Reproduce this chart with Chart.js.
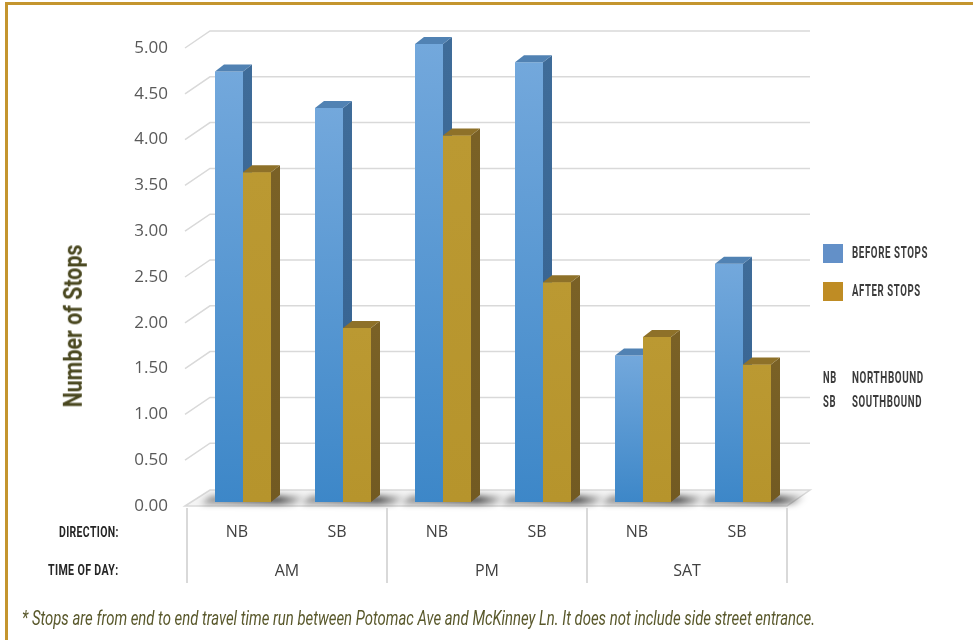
<!DOCTYPE html>
<html lang="en">
<head>
<meta charset="UTF-8">
<title>Number of Stops</title>
<script src="https://cdn.jsdelivr.net/npm/chart.js"></script>
<style>
  body { margin: 0; background: #fff; }
  #frame {
    position: absolute; left: 5px; top: 2px; width: 968px; height: 638px;
    border-left: 3px solid #c4952e; border-top: 3px solid #c4952e;
    box-sizing: border-box;
  }
  canvas { position: absolute; left: 0; top: 0; }
  .txt {
    position: absolute; white-space: nowrap; font-family: Roboto, sans-serif;
    line-height: 20px; transform-origin: left center;
  }
  .row { font-size: 15px; font-weight: 700; color: #262626; letter-spacing: 0.5px; }
  .leg { font-size: 16px; font-weight: 700; color: #3c3c3c; letter-spacing: 1px; }
  .note { font-size: 21px; font-style: italic; color: #59582b; line-height: 26px; }
  .title { font-size: 26px; font-weight: 700; color: #4a4820; line-height: 30px; transform-origin: center center; }
  .box { position: absolute; width: 20px; height: 19px; }
</style>
</head>
<body>
<div id="frame"></div>
<canvas id="chart" width="973" height="640"></canvas>

<div class="txt title" id="ytitle" data-w="163" data-cx="73" data-cy="326">Number of Stops</div>

<div class="txt row" data-x="59" data-y="532" data-w="60">DIRECTION:</div>
<div class="txt row" data-x="48" data-y="570" data-w="71">TIME OF DAY:</div>

<div class="box" style="left:823px; top:244px; background:#6390c8;"></div>
<div class="txt leg" data-x="852" data-y="253" data-w="76">BEFORE STOPS</div>
<div class="box" style="left:823px; top:282px; background:#bf8c24;"></div>
<div class="txt leg" data-x="852" data-y="291" data-w="69">AFTER STOPS</div>

<div class="txt leg" data-x="823" data-y="378" data-w="14">NB</div>
<div class="txt leg" data-x="852" data-y="378" data-w="72">NORTHBOUND</div>
<div class="txt leg" data-x="823" data-y="402" data-w="13">SB</div>
<div class="txt leg" data-x="852" data-y="402" data-w="70">SOUTHBOUND</div>

<div class="txt note" data-x="22" data-y="618" data-w="793">* Stops are from end to end travel time run between Potomac Ave and McKinney Ln. It does not include side street entrance.</div>

<script>
// data
const groups = ['AM', 'PM', 'SAT'];
const directions = ['NB', 'SB', 'NB', 'SB', 'NB', 'SB'];
const beforeStops = [4.7, 4.3, 5.0, 4.8, 1.6, 2.6];
const afterStops = [3.6, 1.9, 4.0, 2.4, 1.8, 1.5];
const yMin = 0, yMax = 5, yStep = 0.5;

// looks
const frontTop = ['#73a8dc', '#bb9932'];
const frontBot = ['#3d87c8', '#b6942c'];
const sideTop = ['#3f6c99', '#7a6126'];
const sideBot = ['#33608f', '#725a22'];
const topCol = ['#5182b3', '#8e7129'];
const DX = 9, DY = -7;

// squeeze the condensed texts to the widths in the picture
document.querySelectorAll('.txt').forEach(function (el) {
  var s = el.dataset.w / el.offsetWidth;
  if (el.dataset.cx) {
    el.style.left = (el.dataset.cx - el.offsetWidth / 2) + 'px';
    el.style.top = (el.dataset.cy - el.offsetHeight / 2) + 'px';
    el.style.transform = 'rotate(-90deg) scaleX(' + s + ')';
  } else {
    el.style.left = el.dataset.x + 'px';
    el.style.top = (el.dataset.y - el.offsetHeight / 2) + 'px';
    el.style.transform = 'scaleX(' + s + ')';
  }
});

function poly(ctx, pts, fill, stroke) {
  ctx.beginPath();
  ctx.moveTo(pts[0][0], pts[0][1]);
  for (var i = 1; i < pts.length; i++) ctx.lineTo(pts[i][0], pts[i][1]);
  ctx.closePath();
  if (fill) { ctx.fillStyle = fill; ctx.fill(); }
  if (stroke) { ctx.strokeStyle = stroke; ctx.stroke(); }
}

function faces(ctx, el, k) {
  const l = el.x - el.width / 2, r = el.x + el.width / 2, t = el.y, b = el.base;
  const g = ctx.createLinearGradient(0, t, 0, b);
  g.addColorStop(0, sideTop[k]);
  g.addColorStop(1, sideBot[k]);
  poly(ctx, [[r, t], [r + DX, t + DY], [r + DX, b + DY], [r, b]], g);
  poly(ctx, [[l, t], [l + DX, t + DY], [r + DX, t + DY], [r, t]], topCol[k]);
}

const threeD = {
  id: 'threeD',
  beforeDatasetsDraw(chart) {
    const ctx = chart.ctx, a = chart.chartArea, x = chart.scales.x, y = chart.scales.y;
    const p0 = y.getPixelForValue(0);
    ctx.save();

    // back wall grid lines
    ctx.strokeStyle = '#d9d9d9';
    ctx.lineWidth = 1.5;
    y.ticks.forEach(function (t) {
      if (t.value === 0) return;
      const p = y.getPixelForValue(t.value);
      ctx.beginPath();
      ctx.moveTo(a.left - 8, p + 4);
      ctx.lineTo(a.left + 17, p - 13);
      ctx.lineTo(a.right + 17, p - 13);
      ctx.stroke();
    });

    // floor
    poly(ctx, [[a.left - 8, p0 + 4], [a.left + 17, p0 - 12], [a.right + 17, p0 - 12], [a.right - 6, p0 + 4]], '#f4f4f4', '#d9d9d9');

    // shadows under the bar pairs
    const m0 = chart.getDatasetMeta(0).data, m1 = chart.getDatasetMeta(1).data;
    ctx.filter = 'blur(3px)';
    for (let i = 0; i < m0.length; i++) {
      const l = m0[i].x - m0[i].width / 2, r = m1[i].x + m1[i].width / 2;
      const g = ctx.createLinearGradient(l, 0, r + 34, 0);
      g.addColorStop(0, 'rgba(0,0,0,0.4)');
      g.addColorStop(0.7, 'rgba(0,0,0,0.7)');
      g.addColorStop(1, 'rgba(0,0,0,0.05)');
      poly(ctx, [[l - 14, p0 + 2], [l - 4, p0 - 6], [r + 36, p0 - 6], [r + 24, p0 + 2]], g);
    }
    ctx.filter = 'none';

    // category table below the floor
    const xs = directions.map(function (d, i) { return x.getPixelForValue(i); });
    const step = xs[1] - xs[0];
    const bx = function (i) { return (i < xs.length ? xs[i] : xs[xs.length - 1] + step) - step / 2 - 6; };
    ctx.strokeStyle = '#d9d9d9';
    ctx.lineWidth = 2;
    for (let g = 0; g <= groups.length; g++) {
      ctx.beginPath();
      ctx.moveTo(bx(g * 2), p0 + 6);
      ctx.lineTo(bx(g * 2), p0 + 81);
      ctx.stroke();
    }
    ctx.fillStyle = '#404040';
    ctx.font = '16px "Open Sans"';
    ctx.textAlign = 'center';
    ctx.textBaseline = 'middle';
    directions.forEach(function (d, i) { ctx.fillText(d, xs[i] - 6, p0 + 30); });
    groups.forEach(function (gname, g) { ctx.fillText(gname, (bx(g * 2) + bx(g * 2 + 2)) / 2, p0 + 69); });
    ctx.restore();
  },
  afterDatasetsDraw(chart) {
    // blue depth first, then the gold bars go over it
    const ctx = chart.ctx;
    ctx.save();
    chart.getDatasetMeta(0).data.forEach(function (el) { faces(ctx, el, 0); });
    chart.getDatasetMeta(1).data.forEach(function (el) { el.draw(ctx); faces(ctx, el, 1); });
    ctx.restore();
  }
};

function frontFill(k) {
  return function (c) {
    const y = c.chart.scales.y;
    if (!y || typeof c.raw !== 'number') return frontBot[k];
    const t = y.getPixelForValue(c.raw), b = y.getPixelForValue(0);
    if (!isFinite(t) || !isFinite(b) || t === b) return frontBot[k];
    const g = c.chart.ctx.createLinearGradient(0, t, 0, b);
    g.addColorStop(0, frontTop[k]);
    g.addColorStop(1, frontBot[k]);
    return g;
  };
}

new Chart(document.getElementById('chart'), {
  type: 'bar',
  data: {
    labels: directions,
    datasets: [
      { label: 'BEFORE STOPS', data: beforeStops, backgroundColor: frontFill(0) },
      { label: 'AFTER STOPS', data: afterStops, backgroundColor: frontFill(1) }
    ]
  },
  options: {
    responsive: false,
    animation: false,
    layout: { padding: { top: 44, right: 180, bottom: 138, left: 0 } },
    plugins: { legend: { display: false }, tooltip: { enabled: false } },
    datasets: { bar: { categoryPercentage: 0.56, barPercentage: 1.0, borderWidth: 0 } },
    scales: {
      x: { display: false },
      y: {
        min: yMin, max: yMax,
        ticks: {
          stepSize: yStep,
          callback: function (v) { return Number(v).toFixed(2); },
          font: { family: 'Open Sans', size: 17 },
          color: '#595959',
          padding: 25,
          labelOffset: 4
        },
        grid: { display: false, drawTicks: false },
        border: { display: false },
        afterFit: function (s) { s.width = 193; }
      }
    }
  },
  plugins: [threeD]
});
</script>
</body>
</html>
